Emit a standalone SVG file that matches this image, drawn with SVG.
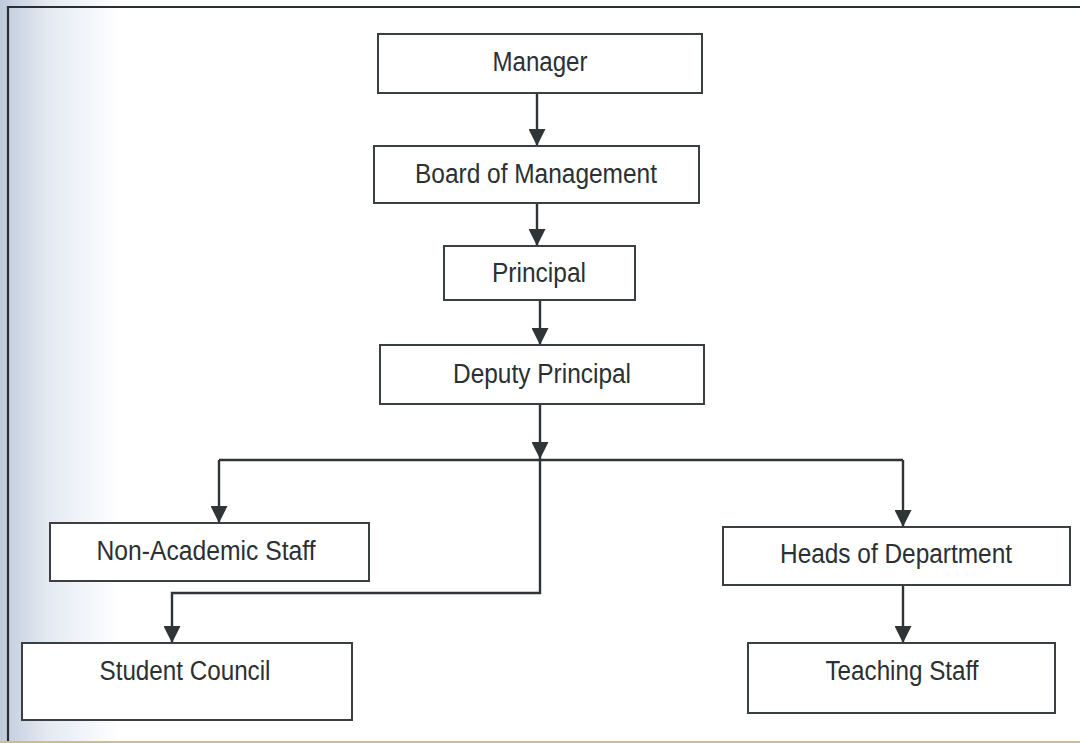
<svg xmlns="http://www.w3.org/2000/svg" width="1080" height="743" viewBox="0 0 1080 743">
  <defs>
    <linearGradient id="scanShade" x1="0" y1="0" x2="1" y2="0">
      <stop offset="0" stop-color="#bfcadb"/>
      <stop offset="0.4" stop-color="#e4eaf2"/>
      <stop offset="1" stop-color="#ffffff"/>
    </linearGradient>
    <marker id="arrow" viewBox="0 0 16 16" refX="16" refY="8" markerWidth="17" markerHeight="17" markerUnits="userSpaceOnUse" orient="auto">
      <path d="M0,0 L16,8 L0,16 Z" fill="#2f3437"/>
    </marker>
  </defs>
  <style>
    .box { fill: #ffffff; stroke: #3a3f42; stroke-width: 2; }
    .label { font-family: "Liberation Sans", Arial, sans-serif; font-size: 27px; fill: #2b3033; text-anchor: middle; }
    .conn { fill: none; stroke: #2f3437; stroke-width: 2.4; }
  </style>

  <rect x="0" y="0" width="1080" height="743" fill="#ffffff"/>
  <rect x="0" y="0" width="120" height="743" fill="url(#scanShade)"/>
  <path d="M8,743 L8,7 L1080,7" fill="none" stroke="#2a2f33" stroke-width="2.2"/>
  <line x1="0" y1="742" x2="1080" y2="742" stroke="#c9bc98" stroke-width="2"/>

  <g id="connectors">
    <line class="conn" x1="537" y1="93" x2="537" y2="146" marker-end="url(#arrow)"/>
    <line class="conn" x1="537" y1="203" x2="537" y2="246" marker-end="url(#arrow)"/>
    <line class="conn" x1="540" y1="300" x2="540" y2="345" marker-end="url(#arrow)"/>
    <line class="conn" x1="540" y1="404" x2="540" y2="459" marker-end="url(#arrow)"/>
    <polyline class="conn" points="219,460 903,460"/>
    <line class="conn" x1="219" y1="460" x2="219" y2="523" marker-end="url(#arrow)"/>
    <line class="conn" x1="903" y1="460" x2="903" y2="527" marker-end="url(#arrow)"/>
    <polyline class="conn" points="540,460 540,593 172,593 172,643" marker-end="url(#arrow)"/>
    <line class="conn" x1="903" y1="585" x2="903" y2="643" marker-end="url(#arrow)"/>
  </g>

  <g id="manager">
    <rect class="box" x="378" y="34" width="324" height="59"/>
    <text class="label" x="540" y="71" textLength="95" lengthAdjust="spacingAndGlyphs">Manager</text>
  </g>
  <g id="board-of-management">
    <rect class="box" x="374" y="146" width="325" height="57"/>
    <text class="label" x="536" y="183" textLength="242" lengthAdjust="spacingAndGlyphs">Board of Management</text>
  </g>
  <g id="principal">
    <rect class="box" x="444" y="246" width="191" height="54"/>
    <text class="label" x="539" y="282" textLength="94" lengthAdjust="spacingAndGlyphs">Principal</text>
  </g>
  <g id="deputy-principal">
    <rect class="box" x="380" y="345" width="324" height="59"/>
    <text class="label" x="542" y="383" textLength="178" lengthAdjust="spacingAndGlyphs">Deputy Principal</text>
  </g>
  <g id="non-academic-staff">
    <rect class="box" x="50" y="523" width="319" height="58"/>
    <text class="label" x="206" y="560" textLength="219" lengthAdjust="spacingAndGlyphs">Non-Academic Staff</text>
  </g>
  <g id="heads-of-department">
    <rect class="box" x="723" y="527" width="347" height="58"/>
    <text class="label" x="896" y="563" textLength="232" lengthAdjust="spacingAndGlyphs">Heads of Department</text>
  </g>
  <g id="student-council">
    <rect class="box" x="22" y="643" width="330" height="77"/>
    <text class="label" x="185" y="680" textLength="171" lengthAdjust="spacingAndGlyphs">Student Council</text>
  </g>
  <g id="teaching-staff">
    <rect class="box" x="748" y="643" width="307" height="70"/>
    <text class="label" x="902" y="680" textLength="153" lengthAdjust="spacingAndGlyphs">Teaching Staff</text>
  </g>
</svg>
